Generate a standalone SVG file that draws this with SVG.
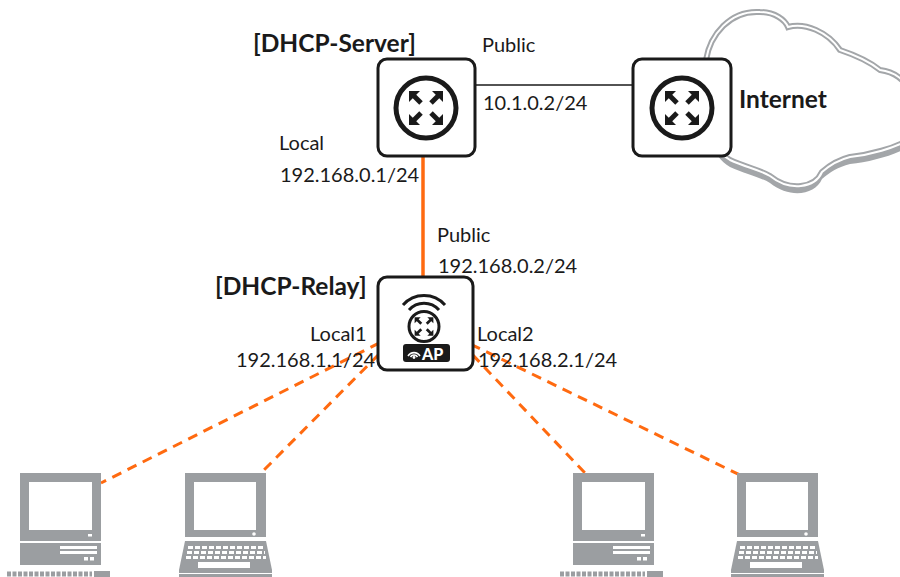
<svg xmlns="http://www.w3.org/2000/svg" xmlns:xlink="http://www.w3.org/1999/xlink" width="900" height="577" viewBox="0 0 900 577">
  <style>
    .lbl { font-family: Lato, "Open Sans", sans-serif; font-size: 20px; fill: #1a1a1a; }
    .ttl { font-family: Lato, "Open Sans", sans-serif; font-size: 24.5px; font-weight: bold; fill: #1a1a1a; }
    .box { fill: #ffffff; stroke: #1a1a1a; stroke-width: 3; }
    .ring { fill: none; stroke: #1a1a1a; }
    .wan { stroke: #1a1a1a; stroke-width: 1.5; fill: none; }
    .uplink { stroke: #ff6a10; stroke-width: 3.5; fill: none; }
    .lan { stroke: #ff6a10; stroke-width: 3; stroke-dasharray: 10 7; fill: none; }
    .dev { fill: #9b9ea1; }
    .hole { fill: #ffffff; }
    .keys { stroke: #ffffff; stroke-width: 3; stroke-dasharray: 5 2; fill: none; }
  </style>
  <defs>
    <!-- four outward arrows used inside router rings -->
    <g id="arrow">
      <polygon points="17,-17 6,-17 17,-6" fill="#1a1a1a"/>
      <line x1="5" y1="-5" x2="13" y2="-13" stroke="#1a1a1a" stroke-width="5"/>
    </g>
    <g id="arrows4">
      <use xlink:href="#arrow"/>
      <use xlink:href="#arrow" transform="rotate(90)"/>
      <use xlink:href="#arrow" transform="rotate(180)"/>
      <use xlink:href="#arrow" transform="rotate(270)"/>
    </g>
    <!-- cloud outline -->
    <path id="cloudShape" d="M730,160 C705,145 692,95 706,60 C710,35 730,10 760,12 C775,12 785,20 788,27 C805,22 828,32 840,50 C855,55 870,62 880,70 C895,72 905,80 908,90 L908,140 C895,148 870,155 850,157 C838,160 830,165 822,172 C815,188 790,192 770,176 C760,170 745,167 730,160 Z"/>
    <!-- desktop PC, origin at monitor top-left -->
    <g id="desktop">
      <rect class="dev" x="0" y="0" width="81" height="68"/>
      <rect class="hole" x="9" y="9" width="63" height="48"/>
      <rect class="hole" x="68" y="61" width="4" height="2.5"/>
      <rect class="dev" x="0" y="70" width="81" height="22"/>
      <rect class="hole" x="40" y="73" width="37" height="3"/>
      <rect class="hole" x="40" y="78" width="37" height="3"/>
      <rect class="hole" x="64" y="84" width="4" height="3.5"/>
      <rect class="hole" x="70" y="84" width="4" height="3.5"/>
      <line x1="-13" y1="101" x2="72" y2="101" stroke="#9b9ea1" stroke-width="5" stroke-dasharray="4 1.5"/>
      <rect class="dev" x="74" y="98" width="16" height="6"/>
    </g>
    <!-- laptop, origin at screen top-left -->
    <g id="laptop">
      <rect class="dev" x="0" y="0" width="81" height="64"/>
      <rect class="hole" x="9" y="9" width="62" height="48"/>
      <circle class="hole" cx="69" cy="61" r="1.8"/>
      <polygon class="dev" points="0,68 81,68 87,97 -6,97"/>
      <line class="keys" x1="3" y1="74.5" x2="79" y2="74.5"/>
      <line class="keys" x1="2" y1="79.5" x2="80" y2="79.5"/>
      <line class="keys" x1="1" y1="84.5" x2="81" y2="84.5"/>
      <rect class="hole" x="13" y="89" width="52" height="6"/>
      <rect class="dev" x="-6" y="97" width="93" height="7"/>
      <rect class="hole" x="-6" y="100" width="93" height="1"/>
    </g>
  </defs>

  <!-- Internet cloud -->
  <g id="cloud">
    <use xlink:href="#cloudShape" transform="translate(0,7)" fill="#a3a6a9"/>
    <use xlink:href="#cloudShape" fill="#ffffff" stroke="#a3a6a9" stroke-width="6"/>
    <use xlink:href="#cloudShape" fill="none" stroke="#ffffff" stroke-width="2"/>
  </g>

  <!-- links -->
  <g id="connectors">
    <line class="wan" x1="475" y1="85" x2="633" y2="85"/>
    <line class="uplink" x1="423" y1="156" x2="423" y2="278"/>
    <line class="lan" x1="425" y1="320" x2="101" y2="483"/>
    <line class="lan" x1="403" y1="330" x2="262" y2="472"/>
    <line class="lan" x1="449" y1="330" x2="585" y2="473"/>
    <line class="lan" x1="425" y1="322" x2="742" y2="476"/>
  </g>

  <!-- DHCP server router -->
  <g id="dhcp-server">
    <rect class="box" x="378" y="59" width="97" height="97" rx="9"/>
    <circle class="ring" cx="426" cy="108" r="30" stroke-width="5"/>
    <use xlink:href="#arrows4" transform="translate(426,108)"/>
    <text class="ttl" x="253" y="52">[DHCP-Server]</text>
    <text class="lbl" x="482" y="52">Public</text>
    <text class="lbl" x="483" y="110">10.1.0.2/24</text>
    <text class="lbl" x="279" y="150">Local</text>
    <text class="lbl" x="280" y="182">192.168.0.1/24</text>
  </g>

  <!-- Internet router -->
  <g id="internet">
    <rect class="box" x="633" y="59" width="98" height="97" rx="9"/>
    <circle class="ring" cx="682" cy="108" r="30" stroke-width="5"/>
    <use xlink:href="#arrows4" transform="translate(682,108)"/>
    <text class="ttl" x="739" y="108">Internet</text>
  </g>

  <!-- DHCP relay access point -->
  <g id="dhcp-relay">
    <rect class="box" x="378" y="277" width="95" height="93" rx="9"/>
    <path class="ring" stroke-width="3" d="M403,305 A28,28 0 0 1 445,305"/>
    <path class="ring" stroke-width="3" d="M409,310 A20,20 0 0 1 439,310"/>
    <circle class="ring" cx="424" cy="326.5" r="15" stroke-width="3"/>
    <use xlink:href="#arrows4" transform="translate(424,326.5) scale(0.55)"/>
    <rect x="403" y="344" width="47" height="18" rx="3" fill="#1a1a1a"/>
    <path fill="none" stroke="#ffffff" stroke-width="1.6" d="M408,356 A7,7 0 0 1 420,356 M410.5,357 A4,4 0 0 1 417.5,357"/>
    <circle cx="414" cy="357.5" r="1.4" fill="#ffffff"/>
    <text x="422" y="360" font-family="Lato, 'Open Sans', sans-serif" font-size="16" font-weight="900" fill="#ffffff">AP</text>
    <text class="ttl" x="215" y="295">[DHCP-Relay]</text>
    <text class="lbl" x="437" y="242">Public</text>
    <text class="lbl" x="438" y="273">192.168.0.2/24</text>
    <text class="lbl" x="310" y="341">Local1</text>
    <text class="lbl" x="236" y="367">192.168.1.1/24</text>
    <text class="lbl" x="477" y="341">Local2</text>
    <text class="lbl" x="478" y="367">192.168.2.1/24</text>
  </g>

  <!-- clients -->
  <g id="pc1"><use xlink:href="#desktop" transform="translate(20,473)"/></g>
  <g id="laptop1"><use xlink:href="#laptop" transform="translate(185,473)"/></g>
  <g id="pc2"><use xlink:href="#desktop" transform="translate(573,473)"/></g>
  <g id="laptop2"><use xlink:href="#laptop" transform="translate(737,473)"/></g>
</svg>
